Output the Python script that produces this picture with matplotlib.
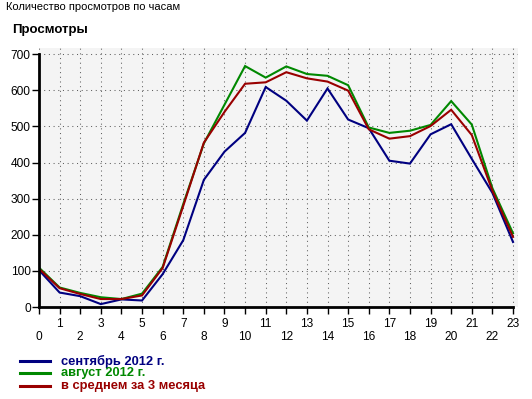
import matplotlib
matplotlib.use("Agg")
import matplotlib.pyplot as plt
from matplotlib.lines import Line2D

plt.rcParams['font.family'] = ['Liberation Sans', 'DejaVu Sans']

hours = list(range(24))
sep_2012 = [102, 40, 30, 8, 21, 18, 91, 185, 352, 430, 482, 609, 571, 516, 605, 519,
            495, 405, 397, 478, 506, 410, 316, 180]
aug_2012 = [109, 54, 39, 27, 22, 37, 111, 285, 453, 560, 667, 635, 666, 645, 640, 614,
            497, 482, 488, 504, 570, 505, 329, 204]
avg_3m = [106, 52, 36, 22, 22, 32, 108, 280, 455, 540, 618, 622, 650, 633, 624, 599,
          492, 466, 473, 501, 546, 476, 322, 194]
labels = ["сентябрь 2012 г.", "август 2012 г.", "в среднем за 3 месяца"]
colors = ["#000080", "#008800", "#990000"]
title = "Количество просмотров по часам"
ylabel = "Просмотры"

W, H = 532, 399
fig = plt.figure(figsize=(W / 100, H / 100), dpi=100)
fig.patch.set_facecolor("white")
x0, x1 = 39, 518
y_bot, y_top = 307, 48
ax = fig.add_axes([x0 / W, 1 - y_bot / H, (x1 - x0) / W, (y_bot - y_top) / H])
ax.set_facecolor("#f4f4f4")

series_list = [sep_2012, aug_2012, avg_3m]
for series, c, lab in zip(series_list, colors, labels):
    ax.plot(hours, series, color=c, lw=1.5, label=lab, solid_joinstyle="miter")

ax.set_xlim(0, 23 * (x1 - x0) / (513 - x0))
ax.set_ylim(0, 717)
ax.set_yticks(range(0, 701, 100))
ax.set_xticks([h for h in hours if h % 2 == 1])
ax.set_xticks([h for h in hours if h % 2 == 0], minor=True)
ax.set_xticklabels([str(h) for h in hours if h % 2 == 1])
ax.set_xticklabels([str(h) for h in hours if h % 2 == 0], minor=True)
ax.tick_params(axis="x", which="major", length=5, width=1, pad=3, labelsize=8.6, color="black")
ax.tick_params(axis="x", which="minor", length=5, width=1, pad=12, labelsize=8.6, color="black")
ax.tick_params(axis="y", length=5, width=1, pad=1, labelsize=8.6)

ax.grid(True, which="both", axis="x", color="#606060", linestyle=(0, (1, 3.5)), lw=0.75)
ax.grid(True, which="major", axis="y", color="#606060", linestyle=(0, (1, 3.5)), lw=0.75)
ax.set_axisbelow(True)

for s in ["top", "right"]:
    ax.spines[s].set_visible(False)
ax.spines["left"].set_linewidth(2)
ax.spines["bottom"].set_linewidth(2)
ax.spines["left"].set_bounds(0, 700)
ax.spines["bottom"].set_bounds(0, 23)

fig.text(6 / W, 1 - 7 / H, title, fontsize=8, va="center", ha="left")
fig.text(12 / W, 1 - 30 / H, ylabel, fontsize=9.5, fontweight="bold", va="center", ha="left")

# legend drawn manually
leg_y = [361, 373, 386]
for yy, c, lab in zip(leg_y, colors, labels):
    fig.add_artist(Line2D([20 / W, 50 / W], [1 - yy / H, 1 - yy / H], color=c, lw=2.2,
                          transform=fig.transFigure))
    fig.text(61 / W, 1 - yy / H, lab, color=c, fontsize=9.3, fontweight="bold",
             va="center", ha="left")

fig.savefig("out.png", dpi=100)
